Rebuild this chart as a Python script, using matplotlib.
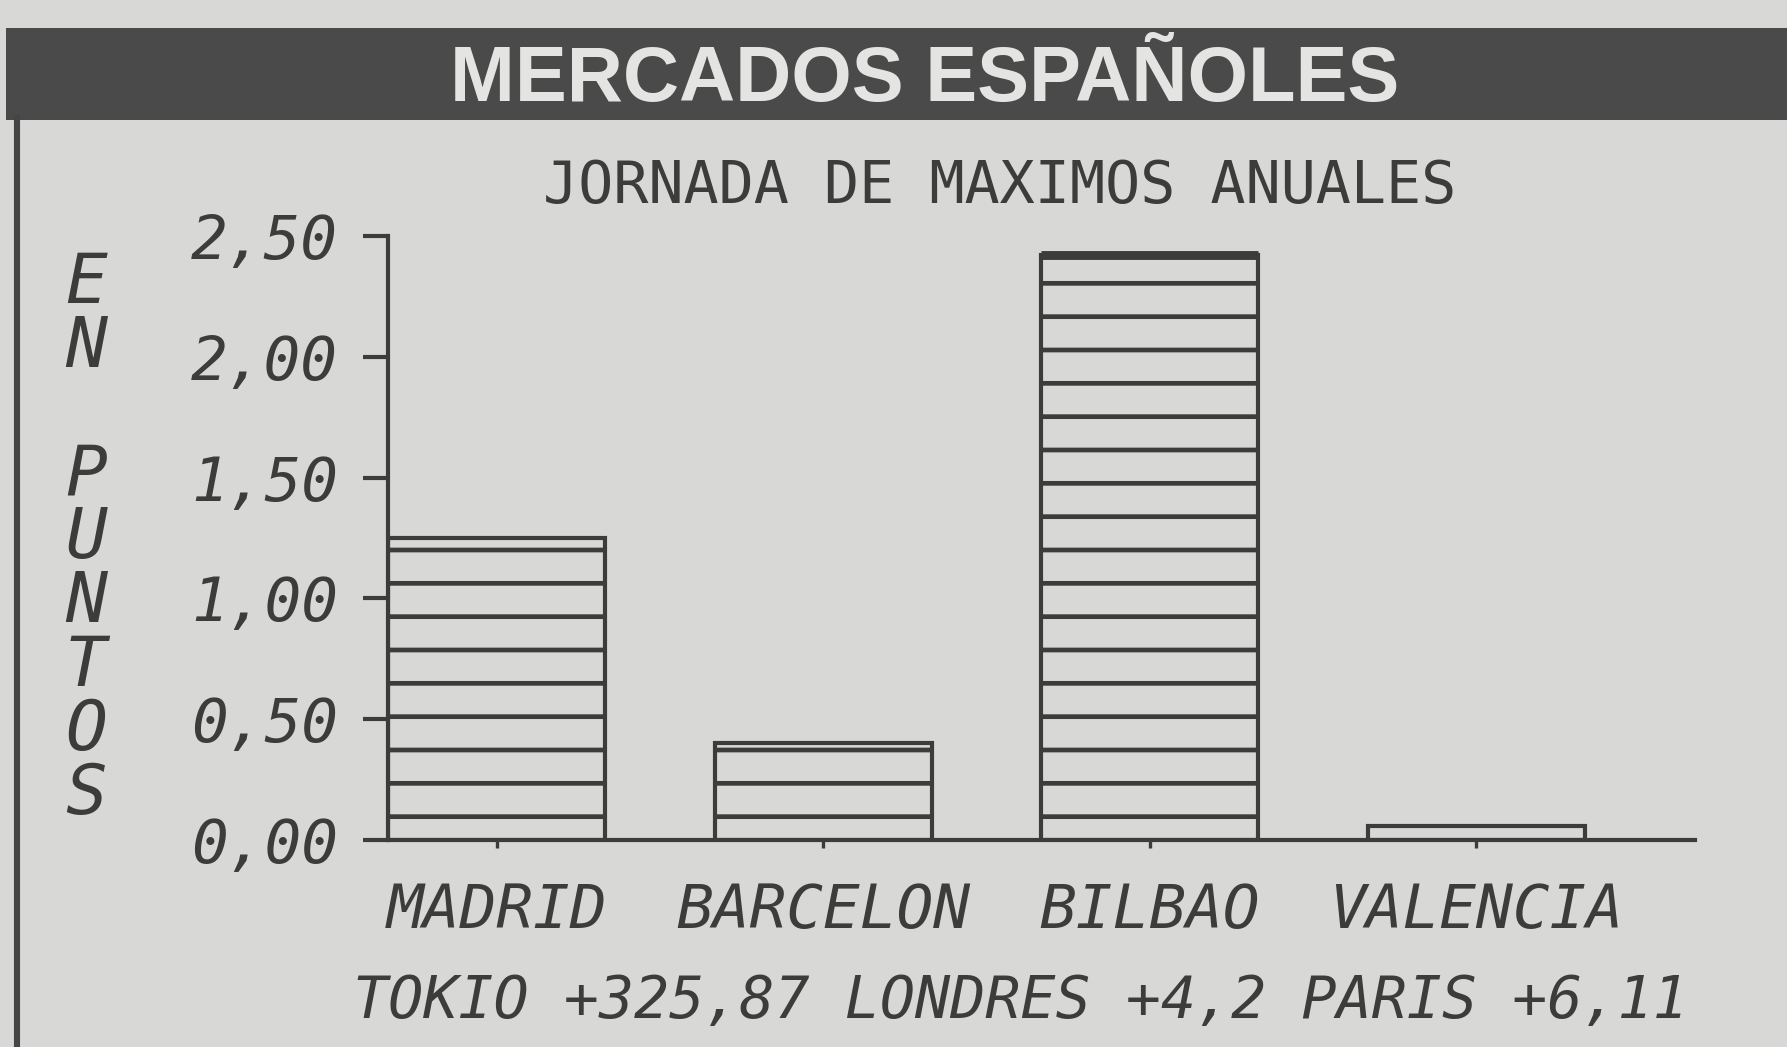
import matplotlib
matplotlib.use("Agg")
import matplotlib.pyplot as plt
from matplotlib.patches import Rectangle
from matplotlib.lines import Line2D

# ---- data ----
categories = ["MADRID", "BARCELON", "BILBAO", "VALENCIA"]
values = [1.25, 0.40, 2.42, 0.06]
yticks = [0.0, 0.5, 1.0, 1.5, 2.0, 2.5]
ytick_labels = ["0,00", "0,50", "1,00", "1,50", "2,00", "2,50"]
title = "MERCADOS ESPAÑOLES"
subtitle = "JORNADA DE MAXIMOS ANUALES"
ylabel_letters = ["E", "N", "", "P", "U", "N", "T", "O", "S"]
footer = "TOKIO +325,87 LONDRES +4,2 PARIS +6,11"

BG = "#d8d8d6"
INK = "#3c3c3c"
DPI = 200
W, H = 1787, 1047

plt.rcParams["hatch.linewidth"] = 1.7
plt.rcParams["hatch.color"] = INK

fig = plt.figure(figsize=(W / DPI, H / DPI), dpi=DPI, facecolor=BG)

def fx(px):
    return px / W

def fy(py):
    return 1 - py / H

# title band
fig.patches.append(Rectangle((fx(6), fy(120)), fx(W - 6), (120 - 28) / H,
                             transform=fig.transFigure, facecolor="#4a4a4a",
                             edgecolor="none", zorder=0))
fig.text(fx(925), fy(80), title, ha="center", va="center", color="#e4e4e2",
         fontsize=28, fontweight="bold", family=["Liberation Sans", "DejaVu Sans"])
# left border
fig.lines.append(Line2D([fx(17), fx(17)], [fy(118), 0], transform=fig.transFigure,
                        color="#454545", linewidth=2.2))

# subtitle
fig.text(fx(1000), fy(186), subtitle, ha="center", va="center", color=INK,
         fontsize=21, family="DejaVu Sans Mono")

# axes
ax = fig.add_axes([fx(388), fy(840), fx(1695 - 388), (840 - 236) / H])
ax.set_facecolor("none")
x = list(range(len(categories)))
ax.bar(x, values, width=0.665, facecolor="none", edgecolor=INK, linewidth=1.5,
       hatch="-", zorder=3)
# heavier top edge on the tallest bar, as in the print
imax = values.index(max(values))
ax.hlines(values[imax], imax - 0.3325, imax + 0.3325, color=INK, linewidth=3.2,
          zorder=4)
ax.set_xlim(-0.333, 3.67)
ax.set_ylim(0, 2.5)
for s in ["top", "right"]:
    ax.spines[s].set_visible(False)
for s in ["left", "bottom"]:
    ax.spines[s].set_linewidth(1.5)
    ax.spines[s].set_color(INK)
ax.set_yticks(yticks)
ax.set_yticklabels(ytick_labels, fontsize=22, family="DejaVu Sans Mono",
                   style="italic", color=INK)
ax.tick_params(axis="y", length=9, width=1.5, color=INK, pad=9)
ax.set_xticks(x)
ax.set_xticklabels(categories, fontsize=22, family="DejaVu Sans Mono",
                   style="italic", color=INK)
ax.tick_params(axis="x", length=3, width=1.2, color=INK, pad=12)

# vertical y label (one stacked text)
fig.text(fx(86), fy(250), "\n".join(ylabel_letters), ha="center", va="top",
         color=INK, fontsize=25, family="DejaVu Sans Mono", style="italic",
         linespacing=0.94, multialignment="center")

# footer
fig.text(fx(1020), fy(1001), footer, ha="center", va="center", color=INK,
         fontsize=21, family="DejaVu Sans Mono", style="italic")

fig.savefig("out.png", dpi=DPI, facecolor=BG)
